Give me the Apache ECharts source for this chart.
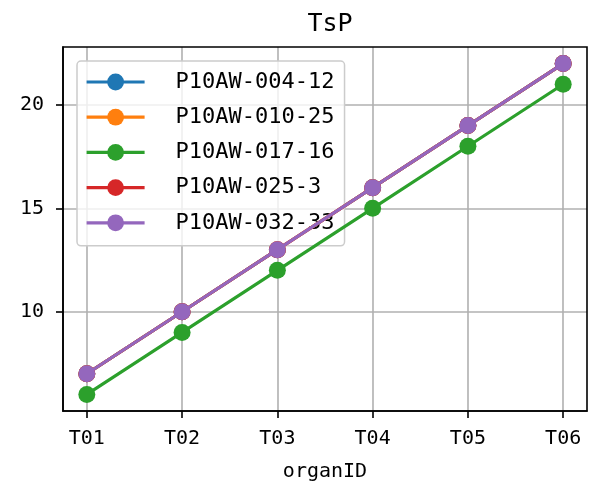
<!DOCTYPE html>
<html><head><meta charset="utf-8">
<script src="https://cdn.jsdelivr.net/npm/echarts@6/dist/echarts.min.js"></script>
<style>html,body{margin:0;padding:0;background:#fff}#c{width:596px;height:487px}</style>
</head><body><div id="c"></div>
<script>
const categories = ['T01','T02','T03','T04','T05','T06'];
const seriesNames = ['P10AW-004-12','P10AW-010-25','P10AW-017-16','P10AW-025-3','P10AW-032-33'];
const s004 = [7,10,13,16,19,22];
const s010 = [7,10,13,16,19,22];
const s017 = [6,9,12,15,18,21];
const s025 = [7,10,13,16,19,22];
const s032 = [7,10,13,16,19,22];
const yTicks = [10,15,20];
const colors = ['#1f77b4','#ff7f0e','#2ca02c','#d62728','#9467bd'];
const allValues = [s004,s010,s017,s025,s032];
const FONT = 'DejaVu Sans Mono';

const xIdx = categories.map((c,i)=>i);
const series = allValues.map((vals,k)=>({
  name: seriesNames[k], type:'line',
  data: vals.map((v,i)=>[i,v]),
  symbol:'circle', symbolSize:17,
  lineStyle:{width:3.2, color:colors[k]},
  itemStyle:{color:colors[k]},
  z: 3+k, animation:false
}));
const chart = echarts.init(document.getElementById('c'), null, {renderer:'canvas'});
chart.setOption({
  animation:false,
  color: colors,
  title:{text:'TsP', left:325, top:7, textAlign:'center',
    textStyle:{fontFamily:FONT, fontSize:25, fontWeight:'normal', color:'#000'}},
  grid:{left:63, top:47, width:524, height:364, show:false},
  legend:{
    orient:'vertical', left:77, top:61,
    padding:[10,10,12,8],
    backgroundColor:'rgba(255,255,255,0.8)', borderColor:'#cccccc', borderWidth:1.5, borderRadius:4,
    itemWidth:58, itemHeight:21, itemGap:13.2,
    lineStyle:{width:3.2},
    textStyle:{fontFamily:FONT, fontSize:22, color:'#000', lineHeight:21, padding:[0,0,0,26]},
    data: seriesNames
  },
  xAxis:{
    type:'value', min:-0.25, max:5.25,
    name:'organID', nameLocation:'middle', nameGap:51,
    nameTextStyle:{fontFamily:FONT, fontSize:20, color:'#000'},
    axisLine:{show:true, onZero:false, lineStyle:{color:'#000', width:1.6}},
    axisTick:{show:true, length:7, lineStyle:{color:'#000', width:1.6}, customValues:xIdx},
    axisLabel:{fontFamily:FONT, fontSize:20, color:'#000', margin:18, customValues:xIdx,
      formatter:v=>categories[Math.round(v)]},
    splitLine:{show:true, lineStyle:{color:'#b0b0b0', width:1.6}}
  },
  yAxis:{
    type:'value', min:5.2, max:22.8,
    axisLine:{show:true, onZero:false, lineStyle:{color:'#000', width:1.6}},
    axisTick:{show:true, length:7, lineStyle:{color:'#000', width:1.6}, customValues:yTicks},
    axisLabel:{fontFamily:FONT, fontSize:20, color:'#000', margin:19, customValues:yTicks},
    splitLine:{show:true, lineStyle:{color:'#b0b0b0', width:1.6}}
  },
  graphic:[
    {type:'rect', shape:{x:63, y:47, width:524, height:364}, style:{fill:'none', stroke:'#000', lineWidth:1.6}, z:100, silent:true}
  ],
  series: series
});
</script></body></html>
